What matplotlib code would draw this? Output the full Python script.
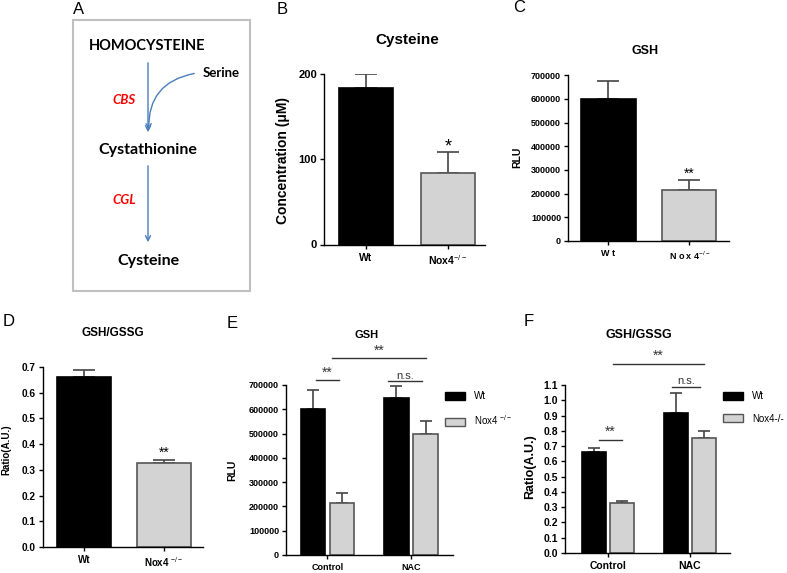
import matplotlib
matplotlib.use("Agg")
import matplotlib.pyplot as plt
from matplotlib.patches import Rectangle, FancyArrowPatch, Patch
import numpy as np

W, H = 787, 573

# --- data ---
genotypes = ["Wt", "Nox4"]
cys_mean = [183, 84]
cys_err = [17, 25]
gsh_mean = [600000, 216000]
gsh_err = [78000, 40000]
ratio_mean = [0.662, 0.326]
ratio_err = [0.026, 0.013]

treatments = ["Control", "NAC"]
gsh_wt = [600000, 648000]
gsh_wt_err = [78000, 48000]
gsh_ko = [216000, 500000]
gsh_ko_err = [40000, 50000]
ratio_wt = [0.662, 0.917]
ratio_wt_err = [0.026, 0.133]
ratio_ko = [0.326, 0.753]
ratio_ko_err = [0.013, 0.047]

plt.rcParams['font.family'] = ['Liberation Sans', 'DejaVu Sans']
plt.rcParams['mathtext.fontset'] = 'custom'
plt.rcParams['mathtext.rm'] = 'Liberation Sans'
plt.rcParams['mathtext.bf'] = 'Liberation Sans:bold'

KO_FACE = '#d3d3d3'
KO_EDGE = '#555555'
ERR = '#444444'


def rect(x0, y0, x1, y1):
    # pixel box (top-left origin) -> figure fraction
    return [x0 / W, 1 - y1 / H, (x1 - x0) / W, (y1 - y0) / H]


def style(ax, yfs, xfs):
    for s in ['top', 'right']:
        ax.spines[s].set_visible(False)
    for s in ['left', 'bottom']:
        ax.spines[s].set_linewidth(1.0)
    ax.tick_params(axis='y', length=3, width=1, labelsize=yfs, pad=2)
    ax.tick_params(axis='x', length=3, width=1, labelsize=xfs, pad=3)
    for lab in ax.get_yticklabels() + ax.get_xticklabels():
        lab.set_fontweight('bold')


def two_bars(ax, vals, errs, width, cap):
    x = np.arange(len(vals))
    ax.bar(x, vals, width=width, color=['black', KO_FACE],
           edgecolor=['black', KO_EDGE], linewidth=1.2, zorder=2)
    ax.errorbar(x, vals, yerr=[np.zeros(len(vals)), errs], fmt='none',
                ecolor=ERR, elinewidth=1.2, capsize=cap, capthick=1.2, zorder=1)
    return x


def grouped(ax, wt, wt_err, ko, ko_err, off, width, cap):
    x = np.arange(len(wt))
    ax.bar(x - off, wt, width=width, color='black', edgecolor='black',
           linewidth=1.2, zorder=2, label='Wt')
    ax.bar(x + off, ko, width=width, color=KO_FACE, edgecolor=KO_EDGE,
           linewidth=1.2, zorder=2, label='Nox4')
    ax.errorbar(x - off, wt, yerr=[np.zeros(len(wt)), wt_err], fmt='none',
                ecolor=ERR, elinewidth=1.2, capsize=cap, capthick=1.2, zorder=1)
    ax.errorbar(x + off, ko, yerr=[np.zeros(len(ko)), ko_err], fmt='none',
                ecolor=ERR, elinewidth=1.2, capsize=cap, capthick=1.2, zorder=1)
    return x


def sig(ax, x0, x1, y, txt, fs):
    ax.plot([x0, x1], [y, y], color='#333333', lw=1, clip_on=False)
    ax.annotate(txt, ((x0 + x1) / 2, y), xytext=(0, 0.5), textcoords='offset points',
                ha='center', va='bottom', fontsize=fs, color='#333333',
                annotation_clip=False)


fig = plt.figure(figsize=(W / 100, H / 100), dpi=100)

# ---------- B ----------
axB = fig.add_axes(rect(324, 74, 485, 244.5))
x = two_bars(axB, cys_mean, cys_err, 0.67, 8)
axB.set_xlim(-0.512, 1.451)
axB.set_ylim(0, 200)
axB.set_yticks([0, 100, 200])
axB.set_xticks(x)
axB.set_xticklabels(["Wt", r"Nox4$^{-/-}$"])
style(axB, 8, 7.5)
axB.annotate('*', (1, cys_mean[1] + cys_err[1]), xytext=(0, -3), textcoords='offset points',
             ha='center', va='bottom', fontsize=13)

# ---------- C ----------
axC = fig.add_axes(rect(568, 75.3, 729, 241))
x = two_bars(axC, gsh_mean, gsh_err, 0.67, 8)
axC.set_xlim(-0.5, 1.49)
axC.set_ylim(0, 700000)
axC.set_yticks(np.arange(0, 700001, 100000))
axC.set_xticks(x)
axC.set_xticklabels(["W t", r"N o x 4$^{-/-}$"])
style(axC, 6.5, 6.5)
axC.annotate('**', (1, gsh_mean[1] + gsh_err[1]), xytext=(0, 0), textcoords='offset points',
             ha='center', va='bottom', fontsize=10)

# ---------- D ----------
axD = fig.add_axes(rect(42.7, 367, 203, 547))
x = two_bars(axD, ratio_mean, ratio_err, 0.675, 8)
axD.set_xlim(-0.516, 1.49)
axD.set_ylim(0, 0.7)
axD.set_yticks(np.arange(0, 0.71, 0.1))
axD.set_yticklabels([f"{v:.1f}" for v in np.arange(0, 0.71, 0.1)])
axD.set_xticks(x)
axD.set_xticklabels(["Wt", r"Nox4 $^{-/-}$"])
style(axD, 7.3, 7)
axD.annotate('**', (1, ratio_mean[1] + ratio_err[1]), xytext=(0, 0), textcoords='offset points',
             ha='center', va='bottom', fontsize=10)

# ---------- E ----------
axE = fig.add_axes(rect(286, 385, 453, 555))
x = grouped(axE, gsh_wt, gsh_wt_err, gsh_ko, gsh_ko_err, 0.174, 0.293, 4.5)
axE.set_xlim(-0.497, 1.503)
axE.set_ylim(0, 700000)
axE.set_yticks(np.arange(0, 700001, 100000))
axE.set_xticks(x)
axE.set_xticklabels(treatments)
style(axE, 6.5, 6.5)
sig(axE, -0.141, 0.138, 719000, '**', 10)
sig(axE, 0.725, 1.128, 715000, 'n.s.', 8)
sig(axE, 0.054, 1.18, 810000, '**', 10)
hE = [Patch(facecolor='black', edgecolor='black'),
      Patch(facecolor=KO_FACE, edgecolor=KO_EDGE)]
axE.legend(hE, ['Wt', r'Nox4 $^{-/-}$'], loc='upper left',
           bbox_to_anchor=(445 / W, 1 - 391 / H), bbox_transform=fig.transFigure,
           frameon=False, fontsize=7, handlelength=2.1, handleheight=0.9,
           labelspacing=1.3, handletextpad=0.9, borderpad=0, borderaxespad=0)

# ---------- F ----------
axF = fig.add_axes(rect(565, 385, 730, 552.8))
x = grouped(axF, ratio_wt, ratio_wt_err, ratio_ko, ratio_ko_err, 0.171, 0.29, 4.5)
axF.set_xlim(-0.524, 1.488)
axF.set_ylim(0, 1.1)
axF.set_yticks(np.arange(0, 1.101, 0.1))
axF.set_yticklabels([f"{v:.1f}" for v in np.arange(0, 1.101, 0.1)])
axF.set_xticks(x)
axF.set_xticklabels(treatments)
style(axF, 7.5, 7.5)
sig(axF, -0.11, 0.167, 0.74, '**', 10)
sig(axF, 0.777, 1.122, 1.087, 'n.s.', 8)
sig(axF, 0.061, 1.171, 1.238, '**', 10)
hF = [Patch(facecolor='black', edgecolor='black'),
      Patch(facecolor=KO_FACE, edgecolor=KO_EDGE)]
axF.legend(hF, ['Wt', 'Nox4-/-'], loc='upper left',
           bbox_to_anchor=(723 / W, 1 - 391 / H), bbox_transform=fig.transFigure,
           frameon=False, fontsize=7, handlelength=2.1, handleheight=0.9,
           labelspacing=1.3, handletextpad=0.9, borderpad=0, borderaxespad=0)

# ---------- overlay: panel A, titles, labels ----------
ov = fig.add_axes([0, 0, 1, 1])
ov.set_xlim(0, W)
ov.set_ylim(H, 0)
ov.axis('off')

ov.add_patch(Rectangle((73, 20), 177, 271, fill=False, edgecolor='#bfbfbf', lw=1.5))
blue = '#4a7ebb'
lato = ['Lato', 'DejaVu Sans']
ov.text(147, 46, 'HOMOCYSTEINE', ha='center', va='center', fontsize=10.5,
        fontweight='bold', family=lato)
ov.text(203, 73, 'Serine', ha='left', va='center', fontsize=9.5, fontweight='bold', family=lato)
ov.text(124, 100, 'CBS', ha='center', va='center', fontsize=9.5, fontweight='bold',
        style='italic', color='red', family=lato)
ov.text(148, 150, 'Cystathionine', ha='center', va='center', fontsize=11.5,
        fontweight='bold', family=lato)
ov.text(124, 200, 'CGL', ha='center', va='center', fontsize=9.5, fontweight='bold',
        style='italic', color='red', family=lato)
ov.text(148, 261, 'Cysteine', ha='center', va='center', fontsize=11.5,
        fontweight='bold', family=lato)
for (y0, y1) in [(60, 135), (163, 245)]:
    ov.add_patch(FancyArrowPatch((148, y0), (148, y1), arrowstyle='->', mutation_scale=9,
                                 color=blue, lw=1))
ov.add_patch(FancyArrowPatch((197, 73), (149, 133), arrowstyle='->', mutation_scale=9,
                             color=blue, lw=1, connectionstyle='arc3,rad=0.45'))

# panel letters
for lab, px, py in [('A', 73, 10), ('B', 277, 10), ('C', 513, 8),
                    ('D', 3, 322), ('E', 227, 323), ('F', 524, 322)]:
    ov.text(px, py, lab, ha='left', va='center', fontsize=12)

# titles
for t, px, py, fs in [('Cysteine', 407, 40, 11), ('GSH', 645, 51, 9),
                      ('GSH/GSSG', 113, 333, 8.5), ('GSH', 367, 335, 8),
                      ('GSH/GSSG', 639, 335, 9)]:
    ov.text(px, py, t, ha='center', va='center', fontsize=fs, fontweight='bold')

# y labels
for t, px, py, fs in [('Concentration (μM)', 283, 160, 10), ('RLU', 517, 157, 7.5),
                      ('Ratio(A.U.)', 6, 450, 7), ('RLU', 232, 470, 7.5),
                      ('Ratio(A.U.)', 530, 467, 9)]:
    ov.text(px, py, t, ha='center', va='center', fontsize=fs, fontweight='bold', rotation=90)

fig.savefig('out.png', dpi=100)
